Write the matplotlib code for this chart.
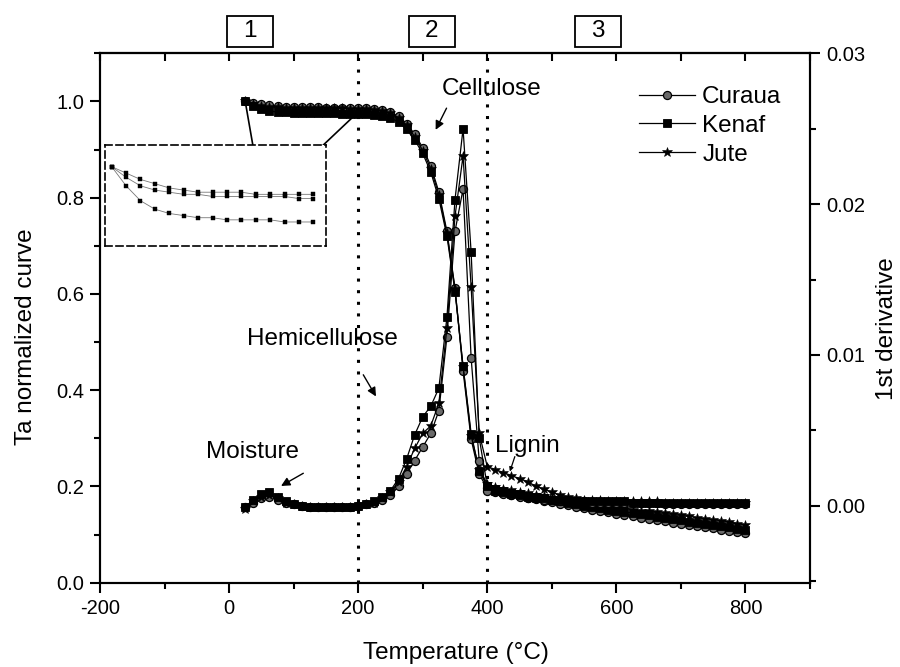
import matplotlib
matplotlib.use("Agg")
import matplotlib.pyplot as plt
import matplotlib.transforms as mtransforms
from matplotlib.patches import Rectangle
from matplotlib.ticker import MultipleLocator, FormatStrFormatter

plt.rcParams['font.family'] = ['Liberation Sans', 'DejaVu Sans']
plt.rcParams['axes.unicode_minus'] = False

# Sampling temperatures (°C)
temperature = [25, 37.5, 50, 62.5, 75, 87.5, 100, 112.5, 125, 137.5, 150, 162.5,
               175, 187.5, 200, 212.5, 225, 237.5, 250, 262.5, 275, 287.5, 300,
               312.5, 325, 337.5, 350, 362.5, 375, 387.5, 400, 412.5, 425, 437.5,
               450, 462.5, 475, 487.5, 500, 512.5, 525, 537.5, 550, 562.5, 575,
               587.5, 600, 612.5, 625, 637.5, 650, 662.5, 675, 687.5, 700, 712.5,
               725, 737.5, 750, 762.5, 775, 787.5, 800]

fibers = ['Curaua', 'Kenaf', 'Jute']

# Normalised TGA curves (left axis)
tga_curaua = [1.000, 0.997, 0.994, 0.992, 0.990, 0.989, 0.988, 0.988, 0.988, 0.988,
              0.987, 0.987, 0.987, 0.987, 0.987, 0.986, 0.985, 0.982, 0.978, 0.969,
              0.954, 0.932, 0.904, 0.866, 0.812, 0.730, 0.612, 0.440, 0.298, 0.225,
              0.196, 0.190, 0.186, 0.183, 0.180, 0.177, 0.174, 0.170, 0.167, 0.164,
              0.161, 0.158, 0.155, 0.152, 0.149, 0.146, 0.143, 0.140, 0.138, 0.135,
              0.133, 0.130, 0.128, 0.125, 0.123, 0.120, 0.118, 0.115, 0.113, 0.110,
              0.108, 0.105, 0.103]
tga_kenaf = [1.000, 0.991, 0.984, 0.980, 0.978, 0.977, 0.976, 0.976, 0.975, 0.975,
             0.975, 0.975, 0.974, 0.974, 0.974, 0.973, 0.972, 0.970, 0.966, 0.957,
             0.942, 0.920, 0.892, 0.853, 0.798, 0.720, 0.605, 0.450, 0.310, 0.232,
             0.200, 0.194, 0.190, 0.187, 0.184, 0.181, 0.178, 0.175, 0.172, 0.169,
             0.166, 0.163, 0.160, 0.158, 0.155, 0.152, 0.150, 0.147, 0.145, 0.142,
             0.140, 0.137, 0.135, 0.132, 0.130, 0.127, 0.125, 0.122, 0.120, 0.117,
             0.115, 0.112, 0.110]
tga_jute = [1.000, 0.995, 0.991, 0.989, 0.988, 0.987, 0.987, 0.986, 0.986, 0.986,
            0.986, 0.986, 0.986, 0.985, 0.985, 0.984, 0.983, 0.980, 0.975, 0.966,
            0.950, 0.927, 0.898, 0.860, 0.806, 0.726, 0.610, 0.448, 0.305, 0.235,
            0.205, 0.199, 0.195, 0.192, 0.189, 0.186, 0.183, 0.180, 0.177, 0.174,
            0.171, 0.169, 0.166, 0.164, 0.161, 0.159, 0.157, 0.155, 0.152, 0.150,
            0.148, 0.146, 0.144, 0.142, 0.140, 0.138, 0.135, 0.133, 0.131, 0.129,
            0.126, 0.123, 0.120]

# First derivative curves (right axis)
dtg_curaua = [-0.0001, 0.0002, 0.0005, 0.0006, 0.0004, 0.0002, 0.0001, 0.0000,
              -0.0001, -0.0001, -0.0001, -0.0001, -0.0001, -0.0001, 0.0000, 0.0001,
              0.0002, 0.0004, 0.0007, 0.0013, 0.0021, 0.0030, 0.0039, 0.0048, 0.0063,
              0.0112, 0.0182, 0.0210, 0.0098, 0.0030, 0.0010, 0.0009, 0.0008, 0.0007,
              0.0006, 0.0005, 0.0005, 0.0004, 0.0004, 0.0003, 0.0003, 0.0003, 0.0003,
              0.0002, 0.0002, 0.0002, 0.0002, 0.0002, 0.0002, 0.0002, 0.0002, 0.0002,
              0.0001, 0.0001, 0.0001, 0.0001, 0.0001, 0.0001, 0.0001, 0.0001, 0.0001,
              0.0001, 0.0001]
dtg_kenaf = [-0.0001, 0.0004, 0.0008, 0.0009, 0.0006, 0.0003, 0.0001, 0.0000,
             -0.00005, -0.00005, -0.00005, -0.00005, -0.00005, -0.00005, 0.0000, 0.0001,
             0.0003, 0.0006, 0.0010, 0.0018, 0.0031, 0.0047, 0.0059, 0.0066, 0.0078,
             0.0125, 0.0203, 0.0250, 0.0168, 0.0045, 0.0013, 0.0010, 0.0009, 0.0008,
             0.0007, 0.0006, 0.0005, 0.0005, 0.0004, 0.0004, 0.0003, 0.0003, 0.0003,
             0.0003, 0.0003, 0.0003, 0.0003, 0.0003, 0.0002, 0.0002, 0.0002, 0.0002,
             0.0002, 0.0002, 0.0002, 0.0002, 0.0002, 0.0002, 0.0002, 0.0002, 0.0002,
             0.0002, 0.0002]
dtg_jute = [-0.0002, 0.0003, 0.0006, 0.0007, 0.0005, 0.0002, 0.0001, 0.0000,
            -0.0001, -0.0001, -0.0001, -0.0001, -0.0001, -0.0001, 0.0000, 0.0001,
            0.0002, 0.0005, 0.0009, 0.0016, 0.0026, 0.0038, 0.0048, 0.0053, 0.0068,
            0.0118, 0.0192, 0.0232, 0.0145, 0.0048, 0.0026, 0.0024, 0.0022, 0.0020,
            0.0018, 0.0016, 0.0013, 0.0011, 0.0009, 0.0007, 0.0006, 0.0005, 0.0004,
            0.0004, 0.0004, 0.0003, 0.0003, 0.0003, 0.0003, 0.0003, 0.0003, 0.0003,
            0.0002, 0.0002, 0.0002, 0.0002, 0.0002, 0.0002, 0.0002, 0.0002, 0.0002,
            0.0002, 0.0002]

tga = {'Curaua': tga_curaua, 'Kenaf': tga_kenaf, 'Jute': tga_jute}
dtg = {'Curaua': dtg_curaua, 'Kenaf': dtg_kenaf, 'Jute': dtg_jute}

region_labels = ['1', '2', '3']
region_centres = [32.5, 314.2, 571.2]

styles = {
    'Curaua': dict(marker='o', mfc='#6a6a6a', mec='black', ms=5.8, mew=0.9),
    'Kenaf': dict(marker='s', mfc='black', mec='black', ms=5.6, mew=0.6),
    'Jute': dict(marker='*', mfc='black', mec='black', ms=7.5, mew=0.4),
}

W, H = 900, 667
FS = 17.5


def fig_rect(x0, y0, x1, y1):
    return [x0 / W, 1 - y1 / H, (x1 - x0) / W, (y1 - y0) / H]


fig = plt.figure(figsize=(W / 100, H / 100), dpi=100)
ax = fig.add_axes(fig_rect(100, 53.3, 810, 582.7))
ax2 = ax.twinx()

handles = []
for name in fibers:
    h, = ax.plot(temperature, tga[name], color='black', lw=0.9, label=name,
                 **styles[name])
    handles.append(h)
    ax2.plot(temperature, dtg[name], color='black', lw=0.9, **styles[name])

# Axis ranges and ticks
ax.set_xlim(-200, 900)
ax.set_ylim(0, 1.1)
ax2.set_ylim(-0.0051, 0.03)

ax.xaxis.set_major_locator(MultipleLocator(200))
ax.xaxis.set_minor_locator(MultipleLocator(100))
ax.yaxis.set_major_locator(MultipleLocator(0.2))
ax.yaxis.set_minor_locator(MultipleLocator(0.1))
ax.yaxis.set_major_formatter(FormatStrFormatter('%.1f'))
ax2.yaxis.set_major_locator(MultipleLocator(0.01))
ax2.yaxis.set_minor_locator(MultipleLocator(0.005))
ax2.yaxis.set_major_formatter(FormatStrFormatter('%.2f'))

for a in (ax, ax2):
    a.tick_params(which='major', direction='out', length=7, width=1.5,
                  labelsize=14.5, pad=4.5)
    a.tick_params(which='minor', direction='out', length=4, width=1.5)
    for s in a.spines.values():
        s.set_linewidth(1.5)
ax.tick_params(axis='x', top=False)

top = ax.secondary_xaxis('top')
top.set_xticks(list(range(-200, 901, 100)))
top.tick_params(axis='x', direction='in', length=6, width=1.5,
                labeltop=False, labelbottom=False)
top.spines['top'].set_linewidth(1.5)

# Region dividers
for xv in (200, 400):
    ax.axvline(xv, color='black', lw=2.2, linestyle=(0, (1, 2.8)), zorder=1)

# Region boxes above the plot
blend = mtransforms.blended_transform_factory(ax.transData, ax.transAxes)
box_w = 71.2
for lab, xc in zip(region_labels, region_centres):
    ax.add_patch(Rectangle((xc - box_w / 2, 1.0119), box_w, 0.0586,
                           transform=blend, clip_on=False, facecolor='white',
                           edgecolor='black', lw=1.3))
    ax.text(xc, 1.0412, lab, transform=blend, ha='center', va='center',
            fontsize=FS, clip_on=False)

# Component annotations
arrow_kw = dict(arrowstyle='-|>', color='black', lw=1.0, mutation_scale=13,
                shrinkA=0, shrinkB=0)
ax.text(406.6, 1.026, 'Cellulose', ha='center', va='center', fontsize=FS)
ax.annotate('', xy=(320, 0.941), xytext=(336.9, 0.986), arrowprops=arrow_kw)
ax.text(144.7, 0.507, 'Hemicellulose', ha='center', va='center', fontsize=FS)
ax.annotate('', xy=(227.6, 0.387), xytext=(207.9, 0.432), arrowprops=arrow_kw)
ax.text(36.4, 0.272, 'Moisture', ha='center', va='center', fontsize=FS)
ax.annotate('', xy=(80.5, 0.201), xytext=(115, 0.2274), arrowprops=arrow_kw)
ax.text(462, 0.284, 'Lignin', ha='center', va='center', fontsize=FS)
ax.annotate('', xy=(435, 0.231), xytext=(442.7, 0.262),
            arrowprops=dict(arrowstyle='-|>', color='black', lw=0.9,
                            mutation_scale=6, shrinkA=0, shrinkB=0))

# Lines tying the low-temperature plateau to the zoomed view
ax.annotate('', xy=(37.6, 0.903), xytext=(25, 1.0),
            arrowprops=dict(arrowstyle='-', color='black', lw=1.2,
                            shrinkA=0, shrinkB=0))
ax.annotate('', xy=(138.2, 0.8996), xytext=(200.8, 0.979),
            arrowprops=dict(arrowstyle='-', color='black', lw=1.2,
                            shrinkA=0, shrinkB=0))

# Zoomed view of the plateau (25-200 °C)
axin = fig.add_axes(fig_rect(105, 145, 326, 246))
n_zoom = 15
for name in fibers:
    axin.plot(temperature[:n_zoom], tga[name][:n_zoom], color='#777777', lw=0.6,
              marker='s', ms=2.6, mfc='black', mec='black', mew=0.3)
axin.set_xlim(19.2, 211)
axin.set_ylim(0.9627, 1.0102)
axin.set_xticks([])
axin.set_yticks([])
for s in axin.spines.values():
    s.set_linestyle((0, (4.2, 2.4)))
    s.set_linewidth(1.2)

# Labels
ax.set_xlabel('Temperature (°C)', fontsize=FS)
ax.xaxis.set_label_coords(0.501, -0.112)
ax.set_ylabel('Ta normalized curve', fontsize=FS)
ax.yaxis.set_label_coords(-0.0887, 0.464)
ax2.set_ylabel('1st derivative', fontsize=FS)
ax2.yaxis.set_label_coords(1.0935, 0.480)

leg = ax2.legend(handles, fibers, loc='upper left',
                 bbox_to_anchor=(639 / W, 1 - 86 / H),
                 bbox_transform=fig.transFigure, frameon=False, fontsize=FS,
                 handlelength=2.3, handletextpad=0.3, labelspacing=0.28,
                 borderpad=0, borderaxespad=0)

fig.savefig('out.png', dpi=100)
